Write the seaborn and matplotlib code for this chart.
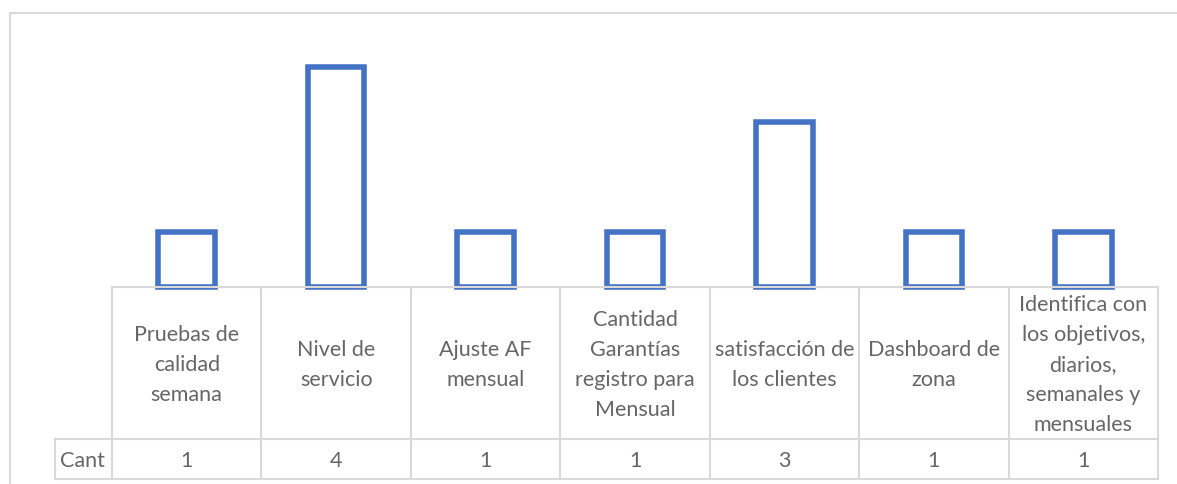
import matplotlib
matplotlib.use("Agg")
import matplotlib.pyplot as plt
from matplotlib.lines import Line2D
import seaborn as sns
import pandas as pd

# Categories (as wrapped in the data table) and counts
categories = [
    "Pruebas de\ncalidad\nsemana",
    "Nivel de\nservicio",
    "Ajuste AF\nmensual",
    "Cantidad\nGarantías\nregistro para\nMensual",
    "satisfacción de\nlos clientes",
    "Dashboard de\nzona",
    "Identifica con\nlos objetivos,\ndiarios,\nsemanales y\nmensuales",
]
cant = [1, 4, 1, 1, 3, 1, 1]
series_name = "Cant"

W, H = 1177, 485
BAR_COLOR = "#4472C4"
GRID = "#d9d9d9"
TEXT = "#666666"
FS = 15.5

sns.set_theme(style="white")
plt.rcParams["font.family"] = ["Lato", "DejaVu Sans"]

fig = plt.figure(figsize=(W / 100, H / 100), dpi=100)
fig.patch.set_facecolor("white")


def fx(px):
    return px / W


def fy(py):
    return 1 - py / H


# Plot area (pixel geometry of the chart)
left, right = 112, 1158
base, top = 288, 30
unit = 55.0

ax = fig.add_axes([fx(left), fy(base), fx(right) - fx(left), fy(top) - fy(base)])
df = pd.DataFrame({"cat": categories, "cant": cant})
sns.barplot(data=df, x="cat", y="cant", ax=ax, width=0.378, fill=False,
            color=BAR_COLOR, linewidth=4, errorbar=None)
for p in ax.patches:
    p.set_edgecolor(BAR_COLOR)
    p.set_facecolor("none")
    p.set_joinstyle("miter")
    p.set_clip_on(False)
ax.set_xlim(-0.5, len(categories) - 0.5)
ax.set_ylim(0, (base - top) / unit)
ax.set_axis_off()

# Data table below the plot area
row1_bottom, table_bottom = 440, 480
tax = fig.add_axes([fx(left), fy(table_bottom), fx(right) - fx(left),
                    fy(base) - fy(table_bottom)])
tax.set_xlim(-0.5, len(categories) - 0.5)
tax.set_ylim(table_bottom, base)
tax.set_axis_off()
col_w = (right - left) / len(categories)
cant_left = -0.5 - (left - 55) / col_w
lkw = dict(color=GRID, lw=1.5, clip_on=False, solid_capstyle="projecting")

tax.plot([-0.5, len(categories) - 0.5], [base, base], **lkw)
tax.plot([cant_left, len(categories) - 0.5], [row1_bottom, row1_bottom], **lkw)
tax.plot([cant_left, len(categories) - 0.5], [table_bottom, table_bottom], **lkw)
for i in range(len(categories) + 1):
    tax.plot([i - 0.5, i - 0.5], [base, table_bottom], **lkw)
tax.plot([cant_left, cant_left], [row1_bottom, table_bottom], **lkw)

for i, (c, v) in enumerate(zip(categories, cant)):
    tax.text(i, (base + row1_bottom) / 2 + 1, c, ha="center", va="center",
             color=TEXT, fontsize=FS, linespacing=1.64, clip_on=False)
    tax.text(i, (row1_bottom + table_bottom) / 2 + 1, str(v), ha="center",
             va="center", color=TEXT, fontsize=FS, clip_on=False)
tax.text(cant_left + 5 / col_w, (row1_bottom + table_bottom) / 2 + 1, series_name,
         ha="left", va="center", color=TEXT, fontsize=FS, clip_on=False)

# Chart area border
fig.add_artist(Line2D([fx(9.5), fx(9.5)], [fy(13.5), 0], color=GRID, lw=1.5))
fig.add_artist(Line2D([fx(9.5), 1], [fy(13.5), fy(13.5)], color=GRID, lw=1.5))

fig.savefig("out.png", dpi=100, facecolor="white")
